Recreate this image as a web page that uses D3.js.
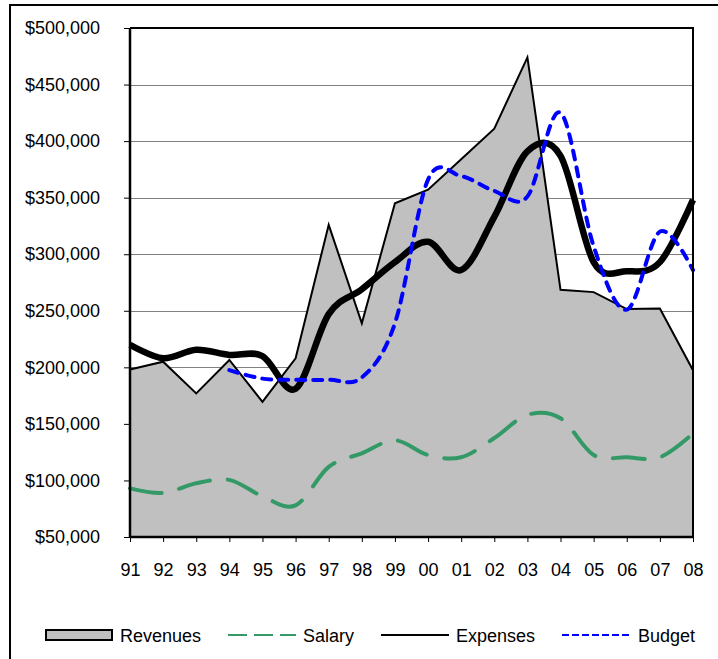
<!DOCTYPE html>
<html>
<head>
<meta charset="utf-8">
<script src="https://cdn.jsdelivr.net/npm/d3@7"></script>
<style>
  body { margin: 0; background: #fff; }
  text { font-family: "Liberation Sans", Arial, sans-serif; font-size: 18px; fill: #000; }
</style>
</head>
<body>
<div id="chart"></div>
<script>
// chart data
var years = ["91", "92", "93", "94", "95", "96", "97", "98", "99", "00", "01", "02", "03", "04", "05", "06", "07", "08"];
var revenues = [198000, 205000, 177000, 206500, 169500, 208000, 326000, 239000, 345000, 357000, 384000, 411000, 474000, 268500, 266500, 251500, 252000, 197500];
var salary = [93000, 89000, 97500, 100500, 86000, 78000, 112000, 124000, 135500, 122500, 120500, 137500, 158000, 155000, 122500, 120500, 120500, 141500];
var expenses = [220000, 208000, 215500, 211000, 210000, 181000, 247000, 269000, 293000, 311000, 286000, 333000, 391000, 387000, 293000, 285000, 293000, 348000];
var budget = [null, null, null, 197500, 190000, 189000, 189000, 191000, 239000, 366000, 369000, 356000, 351000, 425000, 307000, 251000, 320000, 286000];
var yTicks = [50000, 100000, 150000, 200000, 250000, 300000, 350000, 400000, 450000, 500000];

var svgWidth = 718;
var svgHeight = 659;

var svg = d3.select("#chart")
  .append("svg")
  .attr("width", svgWidth)
  .attr("height", svgHeight);

// outer chart frame
svg.append("rect")
  .attr("x", 10)
  .attr("y", 5)
  .attr("width", 720)
  .attr("height", 670)
  .attr("fill", "none")
  .attr("stroke", "#000")
  .attr("stroke-width", 2);

var x = d3.scalePoint()
  .domain(years)
  .range([130, 693]);

var y = d3.scaleLinear()
  .domain([50000, 500000])
  .range([537, 28]);

// gridlines
svg.append("g")
  .selectAll("line")
  .data(yTicks.slice(1, -1))
  .enter()
  .append("line")
  .attr("x1", 130)
  .attr("x2", 693)
  .attr("y1", d => Math.round(y(d)) + 0.5)
  .attr("y2", d => Math.round(y(d)) + 0.5)
  .attr("stroke", "#808080")
  .attr("stroke-width", 1);

// revenues area
var area = d3.area()
  .x((d, i) => x(years[i]))
  .y0(y(50000))
  .y1(d => y(d));

svg.append("path")
  .datum(revenues)
  .attr("d", area)
  .attr("fill", "#c0c0c0");

svg.append("path")
  .datum(revenues)
  .attr("d", d3.line().x((d, i) => x(years[i])).y(d => y(d)))
  .attr("fill", "none")
  .attr("stroke", "#000")
  .attr("stroke-width", 2)
  .attr("stroke-linejoin", "miter");

var smooth = d3.line()
  .defined(d => d !== null)
  .x((d, i) => x(years[i]))
  .y(d => y(d))
  .curve(d3.curveCardinal.tension(0));

svg.append("path")
  .datum(salary)
  .attr("d", smooth)
  .attr("fill", "none")
  .attr("stroke", "#339966")
  .attr("stroke-width", 4)
  .attr("stroke-linecap", "round")
  .attr("stroke-dasharray", "32,18");

svg.append("path")
  .datum(expenses)
  .attr("d", smooth)
  .attr("fill", "none")
  .attr("stroke", "#000")
  .attr("stroke-width", 6.5);

svg.append("path")
  .datum(budget)
  .attr("d", smooth)
  .attr("fill", "none")
  .attr("stroke", "#0000ff")
  .attr("stroke-width", 4)
  .attr("stroke-linecap", "round")
  .attr("stroke-dasharray", "9,8");

// plot frame: top and right
svg.append("path")
  .attr("d", "M130,28H693V537")
  .attr("fill", "none")
  .attr("stroke", "#000")
  .attr("stroke-width", 2);

// axes
var leftAxis = d3.axisLeft(y)
  .tickValues(yTicks)
  .tickSize(6)
  .tickPadding(24)
  .tickFormat(d => "$" + d3.format(",")(d));

var bottomAxis = d3.axisBottom(x)
  .tickSize(5)
  .tickPadding(21);

var gy = svg.append("g")
  .attr("transform", "translate(130,0)")
  .call(leftAxis);

var gx = svg.append("g")
  .attr("transform", "translate(0,537)")
  .call(bottomAxis);

[gx, gy].forEach(function (g) {
  g.select(".domain").attr("stroke", "#000").attr("stroke-width", 2.5);
  g.selectAll(".tick line").attr("stroke", "#000");
  g.selectAll(".tick text")
    .attr("font-family", null)
    .attr("font-size", null)
    .attr("fill", "#000");
});
gx.select(".domain").attr("d", "M130,0H693");
gy.select(".domain").attr("d", "M0,28V537");

// legend
var legend = svg.append("g");

legend.append("rect")
  .attr("x", 46)
  .attr("y", 630)
  .attr("width", 66)
  .attr("height", 10)
  .attr("fill", "#c0c0c0")
  .attr("stroke", "#000")
  .attr("stroke-width", 2);

legend.append("line")
  .attr("x1", 228).attr("x2", 296)
  .attr("y1", 635).attr("y2", 635)
  .attr("stroke", "#339966")
  .attr("stroke-width", 2)
  .attr("stroke-dasharray", "19,7");

legend.append("line")
  .attr("x1", 381).attr("x2", 449)
  .attr("y1", 635).attr("y2", 635)
  .attr("stroke", "#000")
  .attr("stroke-width", 2);

legend.append("line")
  .attr("x1", 562).attr("x2", 631)
  .attr("y1", 635).attr("y2", 635)
  .attr("stroke", "#0000ff")
  .attr("stroke-width", 2)
  .attr("stroke-dasharray", "7,3");

var legendNames = ["Revenues", "Salary", "Expenses", "Budget"];
var legendX = [120, 303, 456, 638];

legend.selectAll("text")
  .data(legendNames)
  .enter()
  .append("text")
  .attr("x", (d, i) => legendX[i])
  .attr("y", 642)
  .text(d => d);
</script>
</body>
</html>
